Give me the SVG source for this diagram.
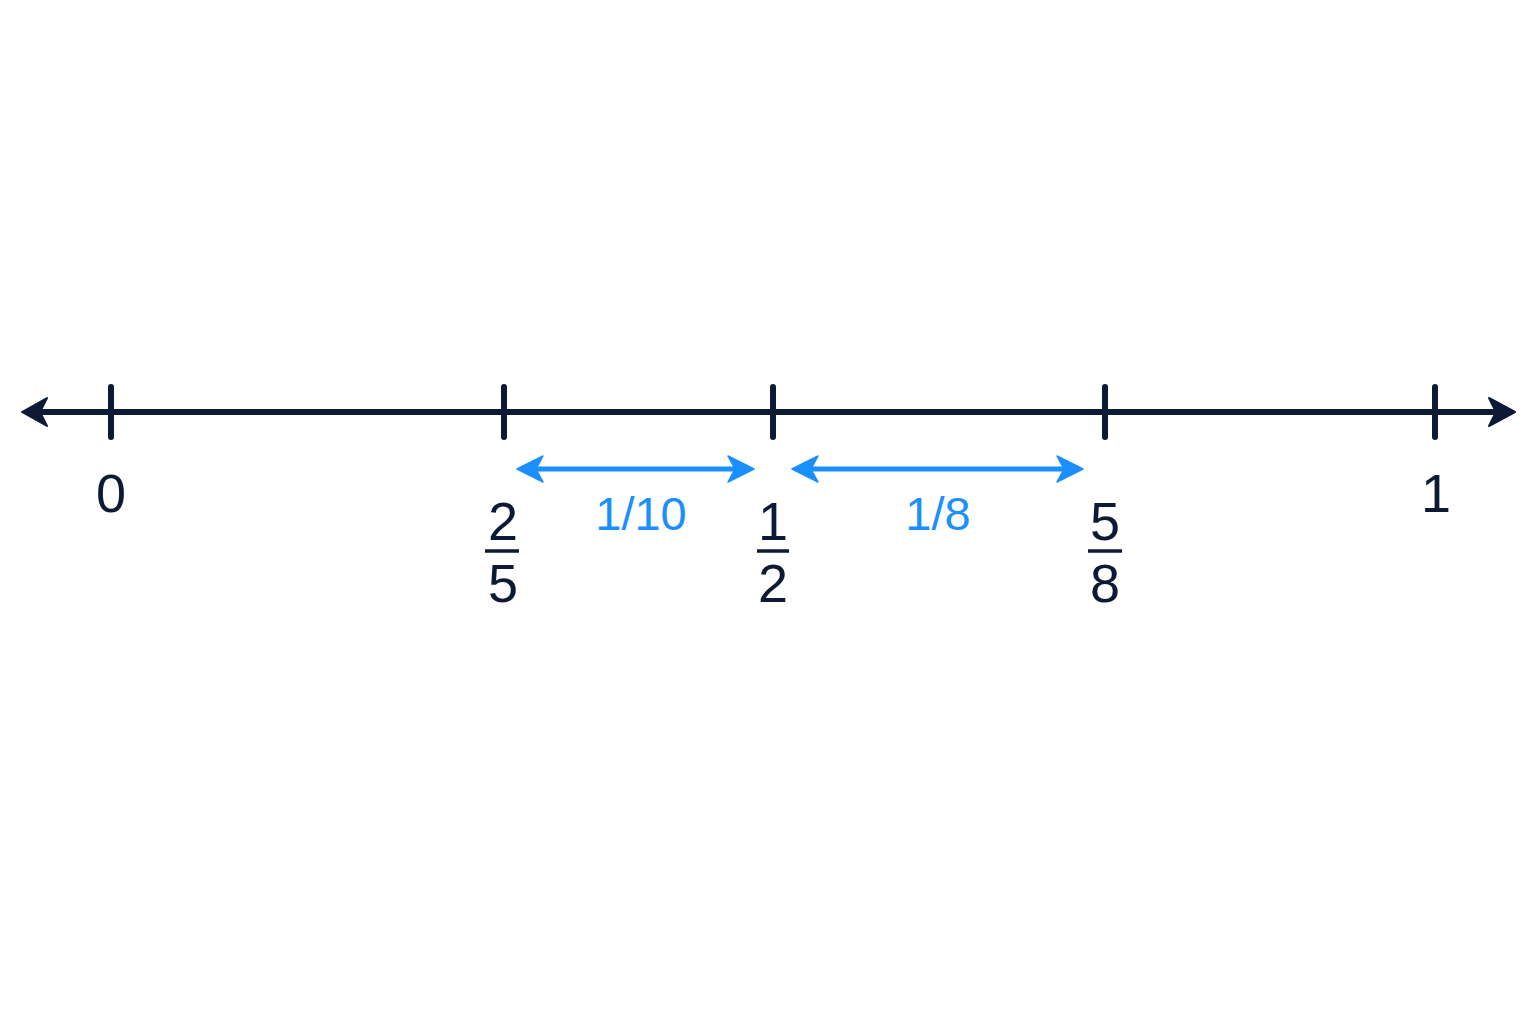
<svg xmlns="http://www.w3.org/2000/svg" width="1536" height="1024" viewBox="0 0 1536 1024">
<style>
.axis{stroke:#0c1a36;stroke-width:6;stroke-linecap:round;fill:none}
.tick{stroke:#0c1a36;stroke-width:6;stroke-linecap:round}
.head{fill:#0c1a36;stroke:#0c1a36;stroke-width:2;stroke-linejoin:round}
.span{stroke:#1a8fff;stroke-width:5;fill:none}
.bhead{fill:#1a8fff;stroke:#1a8fff;stroke-width:1.5;stroke-linejoin:round}
.lbl{font-family:"Liberation Sans",Arial,sans-serif;font-size:54px;fill:#0c1a36;text-anchor:middle}
.blbl{font-family:"Liberation Sans",Arial,sans-serif;font-size:47px;fill:#1a8fff;text-anchor:middle}
.bar{stroke:#0c1a36;stroke-width:3.5}
</style>
<rect width="1536" height="1024" fill="#ffffff"/>
<g id="connectors">
<g id="axis">
<line class="axis" x1="30" y1="412" x2="1505" y2="412"/>
<path class="head" d="M22,412 L47,398 L40,412 L47,426 Z"/>
<path class="head" d="M1515,412 L1489,398 L1496,412 L1489,426 Z"/>
</g>
<g id="span-1-10">
<line class="span" x1="525" y1="469" x2="746" y2="469"/>
<path class="bhead" d="M517,469 L543,456 L536,469 L543,482 Z"/>
<path class="bhead" d="M754,469 L728,456 L735,469 L728,482 Z"/>
</g>
<g id="span-1-8">
<line class="span" x1="800" y1="469" x2="1075" y2="469"/>
<path class="bhead" d="M792,469 L818,456 L811,469 L818,482 Z"/>
<path class="bhead" d="M1083,469 L1057,456 L1064,469 L1057,482 Z"/>
</g>
</g>
<g id="tick-0">
<line class="tick" x1="111" y1="387" x2="111" y2="437"/>
<text class="lbl" x="111" y="512">0</text>
</g>
<g id="tick-2-5">
<line class="tick" x1="504" y1="387" x2="504" y2="437"/>
<text class="lbl" x="503" y="540">2</text>
<line class="bar" x1="485" y1="551" x2="519" y2="551"/>
<text class="lbl" x="503" y="602">5</text>
</g>
<g id="tick-1-2">
<line class="tick" x1="773" y1="387" x2="773" y2="437"/>
<text class="lbl" x="773" y="540">1</text>
<line class="bar" x1="757" y1="551" x2="789" y2="551"/>
<text class="lbl" x="773" y="602">2</text>
</g>
<g id="tick-5-8">
<line class="tick" x1="1105" y1="387" x2="1105" y2="437"/>
<text class="lbl" x="1105" y="540">5</text>
<line class="bar" x1="1088" y1="551" x2="1122" y2="551"/>
<text class="lbl" x="1105" y="602">8</text>
</g>
<g id="tick-1">
<line class="tick" x1="1435" y1="387" x2="1435" y2="437"/>
<text class="lbl" x="1436" y="512">1</text>
</g>
<g id="label-1-10">
<text class="blbl" x="641" y="530">1/10</text>
</g>
<g id="label-1-8">
<text class="blbl" x="938" y="530">1/8</text>
</g>
</svg>
